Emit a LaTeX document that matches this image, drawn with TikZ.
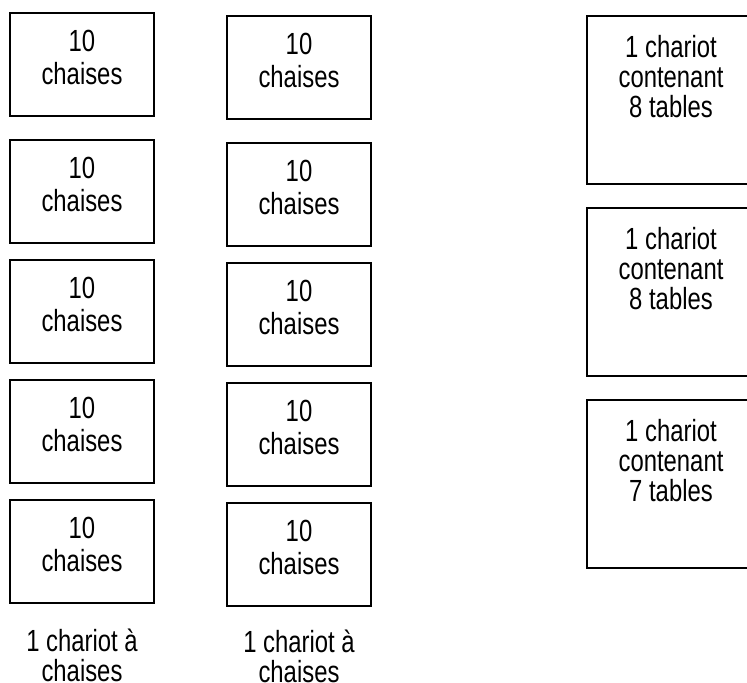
\documentclass[tikz,border=0pt]{standalone}
\usepackage{fontspec}
\setmainfont{Liberation Sans}[FakeStretch=0.78]
\usetikzlibrary{positioning}

\begin{document}
\begin{tikzpicture}[x=0.5pt, y=-0.5pt,
  box/.style={draw, line width=1pt, inner sep=0, minimum width=72pt,
              minimum height=51.5pt, anchor=north},
  cart/.style={draw, line width=1pt, inner sep=0, minimum size=84pt,
               anchor=north west},
  txt/.style={font=\fontsize{15.3}{16.5}\selectfont, align=center,
              inner sep=0, anchor=north},
  tabtxt/.style={txt, font=\fontsize{15.3}{15}\selectfont}]
\clip (0,0) rectangle (747,682);
% two carts of chairs
\foreach \col/\x/\dy in {a/82/0, b/299/3} {
  \foreach \top [count=\i] in {12,139,259,379,499} {
    \node[box] (\col\i) at (\x, \top+\dy) {};
    \node[txt, below=9pt of \col\i.north] (\col\i t) {10\\chaises};
  }
}
\node[tabtxt, below=12.5pt of a5] (cartA) {1 chariot à\\chaises};
\node[tabtxt, below=11.5pt of b5] (cartB) {1 chariot à\\chaises};
% carts of tables
\foreach \top/\ntab [count=\i] in {15/8, 207/8, 399/7} {
  \node[cart] (t\i) at (586, \top) {};
  \node[tabtxt, below=10pt of t\i.north] (t\i t) {1 chariot\\contenant\\\ntab\ tables};
}
\end{tikzpicture}
\end{document}
